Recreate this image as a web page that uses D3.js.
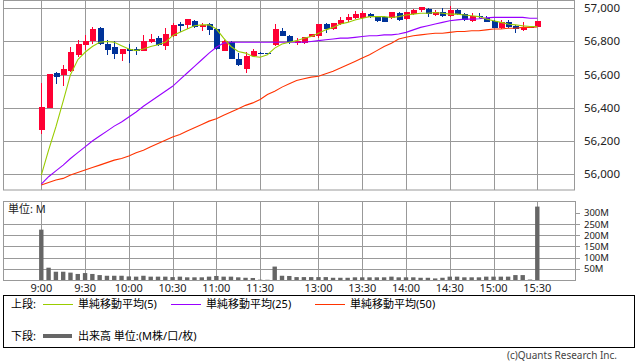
<!DOCTYPE html>
<html><head><meta charset="utf-8">
<script src="https://cdn.jsdelivr.net/npm/d3@7"></script>
<style>
body{margin:0;background:#fff;}
svg{display:block;font-family:"Noto Sans","Noto Sans CJK JP",sans-serif;}
</style></head><body>
<svg id="c" width="638" height="362"></svg>
<script>
const times = ["9:00","9:05","9:10","9:15","9:20","9:25","9:30","9:35","9:40","9:45","9:50","9:55",
"10:00","10:05","10:10","10:15","10:20","10:25","10:30","10:35","10:40","10:45","10:50","10:55",
"11:00","11:05","11:10","11:15","11:20","11:25","11:30","12:25",
"12:30","12:35","12:40","12:45","12:50","12:55","13:00","13:05","13:10","13:15","13:20","13:25",
"13:30","13:35","13:40","13:45","13:50","13:55","14:00","14:05","14:10","14:15","14:20","14:25",
"14:30","14:35","14:40","14:45","14:50","14:55","15:00","15:05","15:10","15:15","15:20","15:25","15:30"];
const open  = [56265,56400,56610,56600,56620,56720,56780,56800,56880,56785,56765,56725,56755,56755,56745,56795,56820,56775,56835,56905,56900,56925,56885,56905,56875,56745,56795,56695,56635,56715,56730,56730,56780,56865,56835,56790,56790,56825,56835,56905,56875,56905,56930,56940,56940,56965,56950,56950,56940,56970,56935,56965,56990,56995,56960,56980,56955,56990,56965,56925,56955,56940,56925,56880,56915,56895,56870,56890,56890];
const high  = [56550,56605,56615,56660,56765,56810,56840,56885,56890,56810,56800,56755,56785,56765,56840,56845,56835,56880,56910,56920,56935,56930,56910,56910,56880,56810,56800,56730,56735,56755,56735,56730,56905,56880,56840,56820,56830,56845,56905,56910,56910,56945,56965,56985,56985,56970,56955,56955,56980,56975,56978,56995,57010,57000,56990,57000,57015,56995,56970,56970,56970,56955,56930,56930,56930,56900,56915,56890,56925];
const low   = [56245,56400,56545,56530,56615,56705,56750,56785,56780,56720,56695,56685,56670,56720,56740,56790,56775,56750,56825,56860,56875,56880,56865,56840,56750,56740,56695,56655,56610,56710,56725,56730,56775,56835,56785,56780,56785,56825,56820,56850,56870,56900,56920,56935,56935,56940,56920,56915,56935,56925,56930,56960,56980,56945,56955,56950,56950,56960,56925,56920,56940,56915,56880,56875,56880,56850,56865,56890,56890];
const close = [56405,56605,56585,56635,56735,56785,56805,56875,56785,56750,56725,56755,56745,56740,56805,56815,56780,56845,56900,56895,56935,56885,56900,56870,56755,56800,56695,56660,56715,56740,56730,56730,56875,56835,56795,56800,56825,56845,56905,56875,56910,56930,56945,56965,56970,56950,56925,56920,56975,56930,56975,56990,57005,56965,56980,56955,56990,56965,56930,56955,56945,56920,56880,56920,56890,56875,56890,56890,56925];
const volume = [225,55,37,37,33,27,31,27,22,19,19,19,16,15,19,15,15,15,13,15,12,12,12,15,18,15,15,12,10,9,1.5,1,60,19,18,13,13,13,13,13,10,10,10,12,12,12,12,12,15,12,12,12,10,10,7,10,15,15,12,12,12,15,15,15,15,22,22,2,328];
const ma5  = [55995,56145,56285,56440,56600,56690,56735,56770,56795,56800,56795,56775,56755,56745,56755,56770,56780,56795,56835,56855,56875,56895,56900,56900,56875,56820,56770,56740,56730,56710,56705,56720,56760,56785,56795,56805,56820,56830,56850,56870,56885,56905,56915,56930,56940,56950,56950,56950,56945,56950,56960,56965,56970,56970,56975,56970,56965,56965,56960,56955,56950,56935,56925,56915,56905,56900,56895,56890,56890];
const ma25 = [55940,55985,56020,56055,56095,56130,56165,56200,56230,56260,56290,56315,56345,56375,56410,56440,56470,56500,56530,56570,56610,56650,56690,56730,56765,56790,56795,56795,56795,56795,56795,56795,56795,56795,56795,56795,56795,56800,56805,56810,56815,56820,56820,56825,56830,56835,56835,56840,56840,56845,56855,56870,56885,56895,56905,56915,56925,56930,56935,56935,56937,56942,56945,56945,56945,56945,56945,56940,56940];
const ma50 = [55935,55950,55965,55975,55995,56010,56025,56040,56055,56070,56085,56095,56110,56130,56145,56165,56185,56205,56225,56240,56260,56280,56300,56320,56335,56355,56375,56395,56415,56430,56450,56480,56500,56525,56545,56565,56575,56585,56590,56605,56620,56640,56660,56680,56700,56720,56745,56770,56790,56815,56825,56835,56840,56845,56850,56850,56855,56860,56860,56865,56865,56870,56875,56875,56880,56880,56885,56885,56887];
const timeTicks = ["9:00","9:30","10:00","10:30","11:00","11:30","13:00","13:30","14:00","14:30","15:00","15:30"];
const priceTicks = [56000,56200,56400,56600,56800,57000];
const volTicks = [50,100,150,200,250,300];
const volGridTicks = [50,100,150,200,250];
const legendTop = ["単純移動平均(5)","単純移動平均(25)","単純移動平均(50)"];

const svg = d3.select("#c");
const GRID = "#999999";
const RED = "#ff0033", BLUE = "#003399";
const C5 = "#99cc00", C25 = "#9900ff", C50 = "#ff3300";

const x = d3.scalePoint().domain(times).range([41.3, 537.3]);
const y = d3.scaleLinear().domain([55905, 57050]).range([190, 0]);
const yv = d3.scaleLinear().domain([0, 353]).range([280, 201]);

const P = {l:3, r:574, t:0, b:190};
const V = {l:3, r:575, t:201, b:280};

const g = svg.append("g");
g.selectAll("line.hp").data(priceTicks).join("line")
  .attr("x1",P.l).attr("x2",P.r)
  .attr("y1",d=>Math.round(y(d))+0.5).attr("y2",d=>Math.round(y(d))+0.5)
  .attr("stroke",GRID);
g.selectAll("line.vp").data(timeTicks).join("line")
  .attr("x1",d=>Math.round(x(d))+0.5).attr("x2",d=>Math.round(x(d))+0.5)
  .attr("y1",P.t).attr("y2",P.b).attr("stroke",GRID);
g.append("rect").attr("x",P.l+0.5).attr("y",P.t+0.5).attr("width",P.r-P.l).attr("height",P.b-P.t-0.5)
  .attr("fill","none").attr("stroke",GRID);
g.selectAll("line.hv").data(volGridTicks).join("line")
  .attr("x1",V.l).attr("x2",V.r)
  .attr("y1",d=>Math.round(yv(d))+0.5).attr("y2",d=>Math.round(yv(d))+0.5)
  .attr("stroke",GRID);
g.selectAll("line.vv").data(timeTicks).join("line")
  .attr("x1",d=>Math.round(x(d))+0.5).attr("x2",d=>Math.round(x(d))+0.5)
  .attr("y1",V.t).attr("y2",V.b).attr("stroke",GRID);
g.selectAll("line.tv").data(volTicks).join("line")
  .attr("x1",V.r).attr("x2",V.r+5)
  .attr("y1",d=>Math.round(yv(d))+0.5).attr("y2",d=>Math.round(yv(d))+0.5)
  .attr("stroke",GRID);
g.append("rect").attr("x",V.l+0.5).attr("y",V.t+0.5).attr("width",V.r-V.l).attr("height",V.b-V.t)
  .attr("fill","none").attr("stroke",GRID);

g.selectAll("text.pl").data(priceTicks).join("text")
  .attr("x",584).attr("y",d=>y(d)+4).attr("font-size","11.5px").attr("fill","#222")
  .text(d=>d3.format(",")(d));
g.selectAll("text.vl").data(volTicks).join("text")
  .attr("x",584).attr("y",d=>yv(d)+3.5).attr("font-size","9.5px").attr("fill","#222")
  .text(d=>d+"M");
g.selectAll("text.tl").data(timeTicks).join("text")
  .attr("x",d=>x(d)).attr("y",292).attr("text-anchor","middle").attr("font-size","11px").attr("fill","#222")
  .text(d=>d);
g.append("text").attr("x",8).attr("y",213).attr("font-size","11px").attr("fill","#222").text("単位: M");

const idx = d3.range(times.length);
svg.append("g").selectAll("rect").data(idx).join("rect")
  .attr("x",i=>x(times[i])-2.2).attr("width",4.4)
  .attr("y",i=>yv(volume[i])).attr("height",i=>yv(0)-yv(volume[i]))
  .attr("fill","#666666");

const cg = svg.append("g").attr("shape-rendering","crispEdges");
idx.forEach(i=>{
  const cx = Math.round(x(times[i]));
  const up = close[i] > open[i];
  const col = up ? RED : BLUE;
  cg.append("line").attr("x1",cx+0.5).attr("x2",cx+0.5)
    .attr("y1",y(high[i])).attr("y2",y(low[i])).attr("stroke",col);
  const top = y(Math.max(open[i],close[i])), bot = y(Math.min(open[i],close[i]));
  cg.append("rect").attr("x",cx-2.5).attr("width",6)
    .attr("y",top).attr("height",Math.max(1,bot-top)).attr("fill",col);
});

const line = arr => d3.line().x((d,i)=>x(times[i])).y(d=>y(d))(arr);
svg.append("path").attr("d",line(ma50)).attr("fill","none").attr("stroke",C50).attr("stroke-width",1.1);
svg.append("path").attr("d",line(ma25)).attr("fill","none").attr("stroke",C25).attr("stroke-width",1.1);
svg.append("path").attr("d",line(ma5)).attr("fill","none").attr("stroke",C5).attr("stroke-width",1.1);

const lg = svg.append("g");
lg.append("rect").attr("x",3.5).attr("y",295.5).attr("width",631).attr("height",52)
  .attr("fill","none").attr("stroke","#000");
lg.append("text").attr("x",11).attr("y",308).attr("font-size","11px").attr("fill","#000").text("上段:");
const lcols = [C5,C25,C50], lx = [43,171,315];
legendTop.forEach((t,k)=>{
  lg.append("line").attr("x1",lx[k]).attr("x2",lx[k]+30).attr("y1",304.5).attr("y2",304.5).attr("stroke",lcols[k]);
  lg.append("text").attr("x",lx[k]+35).attr("y",308).attr("font-size","11px").attr("fill","#000").text(t);
});
lg.append("text").attr("x",11).attr("y",340).attr("font-size","11px").attr("fill","#000").text("下段:");
lg.append("line").attr("x1",43).attr("x2",72).attr("y1",336).attr("y2",336).attr("stroke","#666").attr("stroke-width",4);
lg.append("text").attr("x",78).attr("y",340).attr("font-size","11px").attr("fill","#000").text("出来高 単位:(M株/口/枚)");
svg.append("text").attr("x",617).attr("y",359).attr("text-anchor","end").attr("font-size","10px").attr("fill","#444")
  .text("(c)Quants Research Inc.");
</script>
</body></html>
